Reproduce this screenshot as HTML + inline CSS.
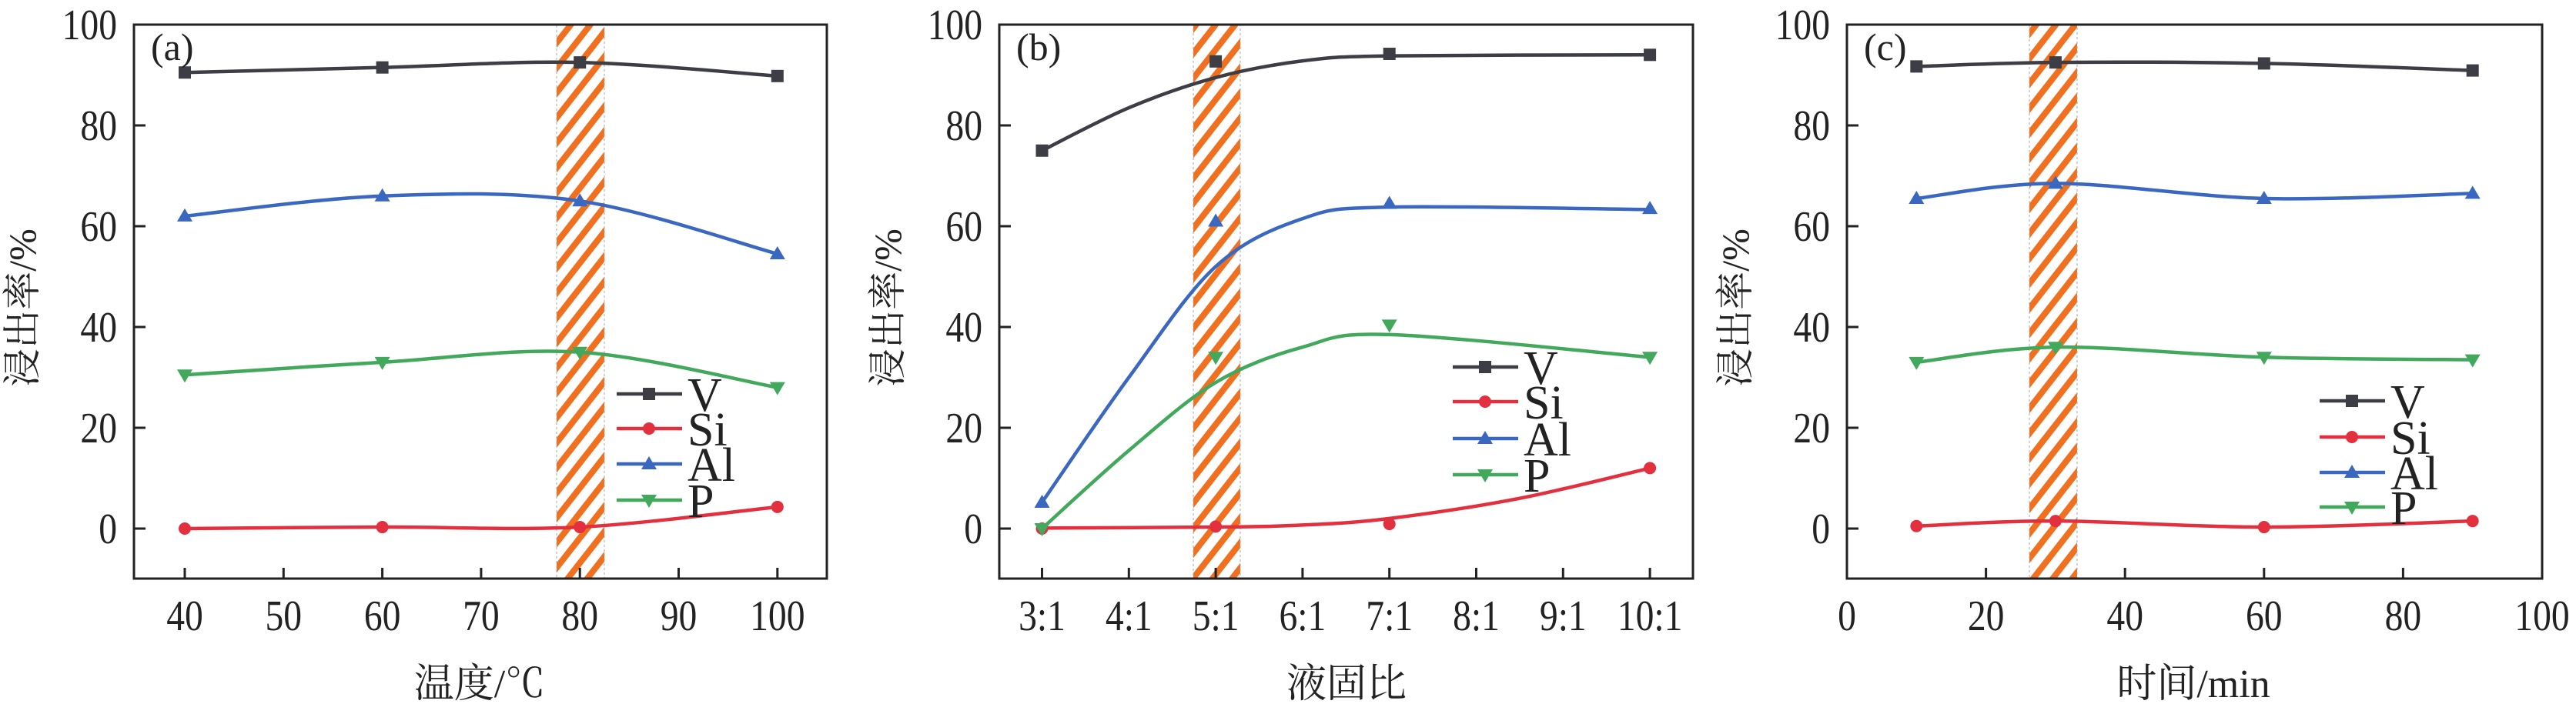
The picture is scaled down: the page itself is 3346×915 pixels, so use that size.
<!DOCTYPE html>
<html><head><meta charset="utf-8"><style>
html,body{margin:0;padding:0;background:#fff;}
svg{display:block;}
text{font-family:"Liberation Serif","Noto Serif CJK SC",serif;fill:#222;}
</style></head><body>
<svg id="s" width="3346" height="915" xmlns="http://www.w3.org/2000/svg">
<defs>
<pattern id="h" patternUnits="userSpaceOnUse" width="20" height="20" patternTransform="rotate(-52)">
<rect width="20" height="20" fill="#fff"/><rect width="20" height="8" fill="#f07020"/>
</pattern>
</defs>
</svg>
<script>
const S=document.getElementById('s');const NS='http://www.w3.org/2000/svg';
function el(t,a,txt){const e=document.createElementNS(NS,t);for(const k in a)e.setAttribute(k,a[k]);if(txt!==undefined)e.textContent=txt;S.appendChild(e);return e;}
const Y=v=>687-6.55*v;
const col={V:'#3c3d45',Si:'#e3303f',Al:'#3a68c0',P:'#42a85c'};
function smooth(pts){let d='M'+pts[0][0]+','+pts[0][1];for(let i=0;i<pts.length-1;i++){const p0=pts[i-1]||pts[i],p1=pts[i],p2=pts[i+1],p3=pts[i+2]||p2;
const c1=[p1[0]+(p2[0]-p0[0])/6,p1[1]+(p2[1]-p0[1])/6],c2=[p2[0]-(p3[0]-p1[0])/6,p2[1]-(p3[1]-p1[1])/6];d+=' C'+c1+' '+c2+' '+p2;}return d;}
function marker(k,x,y){const c=col[k];
if(k=='V')el('rect',{x:x-8,y:y-8,width:16,height:16,fill:c});
else if(k=='Si')el('circle',{cx:x,cy:y,r:8,fill:c});
else if(k=='Al')el('polygon',{points:`${x},${y-10} ${x+10},${y+7} ${x-10},${y+7}`,fill:c});
else el('polygon',{points:`${x},${y+10} ${x+10},${y-7} ${x-10},${y-7}`,fill:c});}
function panel(o){
const L=o.L,R=o.R,T=32,B=752;
el('rect',{x:o.h[0],y:T,width:o.h[1]-o.h[0],height:B-T,fill:'url(#h)',stroke:'#aaa','stroke-width':1,'stroke-dasharray':'3,3'});
for(const k of ['V','Si','Al','P']){
 const pts=o.data[k].map((v,i)=>[o.X(o.xs[i]),Y(v)]);
 const cp=(o.curve&&o.curve[k])?o.curve[k].map(a=>[o.X(a[0]),Y(a[1])]):pts;
 el('path',{d:smooth(cp),fill:'none',stroke:col[k],'stroke-width':4.5});
 pts.forEach(p=>marker(k,p[0],p[1]));
}
el('rect',{x:L,y:T,width:R-L,height:B-T,fill:'none',stroke:'#222','stroke-width':3});
for(let v=0;v<=100;v+=20){el('line',{x1:L,x2:L+15,y1:Y(v),y2:Y(v),stroke:'#222','stroke-width':3});
el('text',{x:0,y:0,'font-size':56,'text-anchor':'end',transform:`translate(${L-22},${Y(v)+19}) scale(0.85,1)`},String(v));}
o.ticks.forEach(t=>{const x=o.X(t[0]);el('line',{x1:x,x2:x,y1:B,y2:B-14,stroke:'#222','stroke-width':3});
el('text',{x:0,y:0,'font-size':56,'text-anchor':'middle',transform:`translate(${x},819) scale(0.85,1)`},t[1]);});
el('text',{x:L+22,y:78,'font-size':50},o.lab);
el('text',{x:o.xl,y:906,'font-size':52,'text-anchor':'middle'},o.xlabel);
el('text',{x:0,y:0,'font-size':50,'text-anchor':'middle',transform:`translate(${L-128},400) rotate(-90)`},'浸出率/%');
['V','Si','Al','P'].forEach((k,i)=>{const y=o.lg[1][i];el('line',{x1:o.lg[0],x2:o.lg[0]+85,y1:y,y2:y,stroke:col[k],'stroke-width':4.5});
marker(k,o.lg[0]+42,y);el('text',{x:o.lg[0]+92,y:y+22,'font-size':62},k);});
}
panel({L:174,R:1074,h:[723,785],X:t=>240+(t-40)*12.83,xs:[40,60,80,100],
data:{V:[90.5,91.5,92.5,89.8],Si:[0,0.3,0.3,4.3],Al:[62,66,65,54.5],P:[30.5,33,35,28]},
ticks:[[40,'40'],[50,'50'],[60,'60'],[70,'70'],[80,'80'],[90,'90'],[100,'100']],lab:'(a)',xlabel:'温度/℃',xl:623,
lg:[801,[512,557,603,650]]});
panel({L:1298,R:2199,h:[1550,1611],X:t=>1353.5+(t-3)*112.8,xs:[3,5,7,10],
data:{V:[75,92.7,94.2,94],Si:[0,0.4,0.9,12],Al:[5.2,61,64.5,63.5],P:[0,34,40.4,34]},
curve:{V:[[3,75],[4,83.5],[5,89.5],[6,92.8],[7,93.8],[10,94]],Si:[[3,0.1],[5,0.3],[6,0.7],[7,2],[8.5,6],[10,12]],
Al:[[3,5.2],[4,30],[5,52],[6,61.5],[7,63.8],[10,63.3]],P:[[3,0],[4,15.5],[5,29],[6,36],[7,38.5],[10,34]]},
ticks:[[3,'3:1'],[4,'4:1'],[5,'5:1'],[6,'6:1'],[7,'7:1'],[8,'8:1'],[9,'9:1'],[10,'10:1']],lab:'(b)',xlabel:'液固比',xl:1749,
lg:[1887,[477,522,570,617]]});
panel({L:2399,R:3302,h:[2636,2698],X:t=>2399+t*9.03,xs:[10,30,60,90],
data:{V:[91.7,92.5,92.3,90.9],Si:[0.5,1.5,0.3,1.5],Al:[65.5,68.5,65.5,66.5],P:[33,36,34,33.5]},
ticks:[[0,'0'],[20,'20'],[40,'40'],[60,'60'],[80,'80'],[100,'100']],lab:'(c)',xlabel:'时间/min',xl:2849,
lg:[3013,[521,568,614,659]]});
</script>
</body></html>
